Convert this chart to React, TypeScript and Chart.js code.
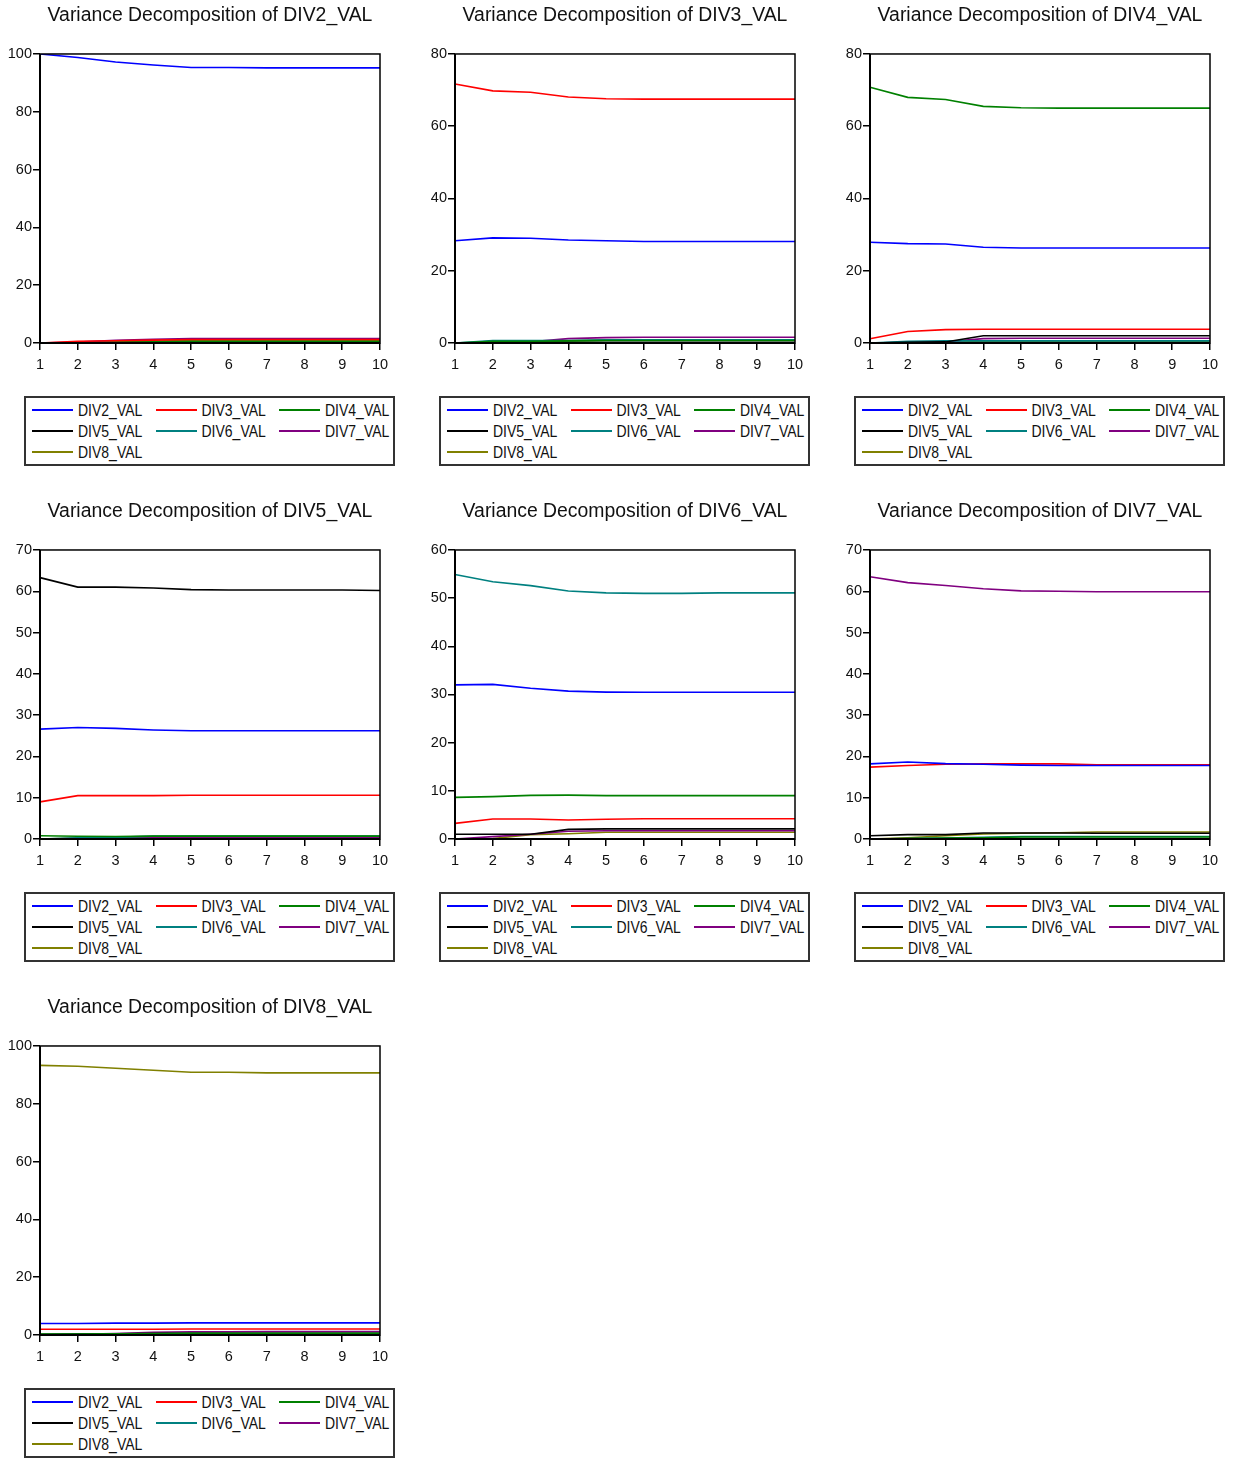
import React, { useEffect, useRef } from "react";
import { Chart, registerables } from "chart.js";

Chart.register(...registerables);

// ---------- data ----------
const periods = ["1", "2", "3", "4", "5", "6", "7", "8", "9", "10"];
const seriesNames = ["DIV2_VAL", "DIV3_VAL", "DIV4_VAL", "DIV5_VAL", "DIV6_VAL", "DIV7_VAL", "DIV8_VAL"];
const seriesColors = ["#0000FF", "#FF0000", "#008000", "#000000", "#008080", "#800080", "#808000"];

const panelTitles = [
  "Variance Decomposition of DIV2_VAL",
  "Variance Decomposition of DIV3_VAL",
  "Variance Decomposition of DIV4_VAL",
  "Variance Decomposition of DIV5_VAL",
  "Variance Decomposition of DIV6_VAL",
  "Variance Decomposition of DIV7_VAL",
  "Variance Decomposition of DIV8_VAL",
];
const yMaxes = [100, 80, 80, 70, 60, 70, 100];
const ySteps = [20, 20, 20, 10, 10, 10, 20];

// rows: DIV2..DIV8 contributions
const vdDIV2: number[][] = [
  [100, 98.8, 97.2, 96.2, 95.3, 95.3, 95.2, 95.2, 95.2, 95.2],
  [0, 0.6, 0.8, 1.0, 1.2, 1.2, 1.2, 1.2, 1.2, 1.2],
  [0, 0.1, 0.3, 0.5, 0.6, 0.6, 0.6, 0.6, 0.6, 0.6],
  [0, 0.05, 0.1, 0.1, 0.1, 0.1, 0.1, 0.1, 0.1, 0.1],
  [0, 0.1, 0.1, 0.2, 0.2, 0.2, 0.2, 0.2, 0.2, 0.2],
  [0, 0.3, 0.9, 1.3, 1.5, 1.5, 1.5, 1.5, 1.5, 1.5],
  [0, 0.1, 0.3, 0.6, 0.9, 0.9, 0.9, 0.9, 0.9, 0.9],
];
const vdDIV3: number[][] = [
  [28.3, 29.1, 29.0, 28.5, 28.3, 28.1, 28.1, 28.1, 28.1, 28.1],
  [71.7, 69.8, 69.4, 68.1, 67.6, 67.5, 67.5, 67.5, 67.5, 67.5],
  [0, 0.5, 0.5, 0.6, 0.7, 0.7, 0.7, 0.7, 0.7, 0.7],
  [0, 0.05, 0.1, 0.2, 0.2, 0.2, 0.2, 0.2, 0.2, 0.2],
  [0, 0.7, 0.7, 0.7, 0.9, 0.9, 0.9, 0.9, 0.9, 0.9],
  [0, 0.1, 0.3, 1.2, 1.5, 1.6, 1.6, 1.6, 1.6, 1.6],
  [0, 0.05, 0.2, 0.6, 0.8, 0.9, 0.9, 0.9, 0.9, 0.9],
];
const vdDIV4: number[][] = [
  [27.9, 27.5, 27.4, 26.5, 26.3, 26.3, 26.3, 26.3, 26.3, 26.3],
  [1.2, 3.2, 3.7, 3.8, 3.8, 3.8, 3.8, 3.8, 3.8, 3.8],
  [70.8, 68.0, 67.4, 65.5, 65.1, 65.0, 65.0, 65.0, 65.0, 65.0],
  [0, 0.2, 0.3, 2.0, 2.0, 2.0, 2.0, 2.0, 2.0, 2.0],
  [0, 0.5, 0.6, 0.6, 0.6, 0.6, 0.6, 0.6, 0.6, 0.6],
  [0, 0.2, 0.3, 1.2, 1.3, 1.3, 1.3, 1.3, 1.3, 1.3],
  [0, 0.1, 0.2, 0.4, 0.5, 0.5, 0.5, 0.5, 0.5, 0.5],
];
const vdDIV5: number[][] = [
  [26.6, 27.0, 26.8, 26.4, 26.2, 26.2, 26.2, 26.2, 26.2, 26.2],
  [9.0, 10.5, 10.5, 10.5, 10.6, 10.6, 10.6, 10.6, 10.6, 10.6],
  [0.8, 0.65, 0.6, 0.7, 0.7, 0.7, 0.7, 0.7, 0.7, 0.7],
  [63.3, 61.0, 61.0, 60.8, 60.4, 60.3, 60.3, 60.3, 60.3, 60.2],
  [0, 0.3, 0.4, 0.7, 0.7, 0.7, 0.7, 0.7, 0.7, 0.7],
  [0, 0.1, 0.2, 0.3, 0.3, 0.3, 0.3, 0.3, 0.3, 0.3],
  [0, 0.2, 0.3, 0.4, 0.6, 0.6, 0.6, 0.6, 0.6, 0.6],
];
const vdDIV6: number[][] = [
  [32.0, 32.1, 31.3, 30.7, 30.5, 30.45, 30.45, 30.45, 30.45, 30.45],
  [3.25, 4.15, 4.15, 3.95, 4.1, 4.2, 4.2, 4.2, 4.2, 4.2],
  [8.65, 8.8, 9.05, 9.1, 9.0, 9.0, 9.0, 9.0, 9.0, 9.0],
  [1.0, 1.0, 1.0, 2.0, 2.1, 2.1, 2.1, 2.1, 2.1, 2.1],
  [54.9, 53.4, 52.6, 51.5, 51.1, 51.0, 51.0, 51.1, 51.1, 51.1],
  [0, 0.5, 1.0, 1.6, 1.7, 1.7, 1.7, 1.7, 1.7, 1.7],
  [0, 0.1, 0.9, 1.1, 1.4, 1.4, 1.4, 1.4, 1.4, 1.4],
];
const vdDIV7: number[][] = [
  [18.2, 18.65, 18.25, 18.1, 17.9, 17.8, 17.8, 17.8, 17.8, 17.8],
  [17.4, 17.8, 18.1, 18.2, 18.2, 18.2, 18.0, 18.0, 18.0, 18.0],
  [0, 0.1, 0.2, 0.3, 0.5, 0.5, 0.5, 0.5, 0.5, 0.5],
  [0.8, 1.05, 1.05, 1.45, 1.45, 1.45, 1.4, 1.4, 1.4, 1.4],
  [0, 0.1, 0.2, 0.4, 0.6, 0.6, 0.6, 0.6, 0.6, 0.6],
  [63.5, 62.1, 61.4, 60.6, 60.1, 60.0, 59.9, 59.9, 59.9, 59.9],
  [0, 0.3, 0.8, 1.2, 1.4, 1.5, 1.7, 1.7, 1.7, 1.7],
];
const vdDIV8: number[][] = [
  [4.0, 4.0, 4.1, 4.1, 4.2, 4.2, 4.2, 4.2, 4.2, 4.2],
  [2.0, 2.0, 2.0, 2.0, 2.1, 2.1, 2.1, 2.1, 2.1, 2.1],
  [0.3, 0.3, 0.4, 0.5, 0.6, 0.6, 0.6, 0.6, 0.6, 0.6],
  [0.2, 0.3, 0.4, 0.5, 0.6, 0.6, 0.6, 0.6, 0.6, 0.6],
  [0.1, 0.2, 0.3, 0.4, 0.5, 0.5, 0.5, 0.5, 0.5, 0.5],
  [0.1, 0.2, 0.5, 0.9, 1.1, 1.1, 1.2, 1.2, 1.2, 1.2],
  [93.3, 93.0, 92.3, 91.6, 90.9, 90.9, 90.7, 90.7, 90.7, 90.7],
];
const panelData = [vdDIV2, vdDIV3, vdDIV4, vdDIV5, vdDIV6, vdDIV7, vdDIV8];

// ---------- styling ----------
const FONT = "'Liberation Sans', Arial, Helvetica, sans-serif";
const PANEL_W = 415;
const PANEL_H = 496;
const CANVAS_H = 390;

const framePlugin = {
  id: "frame",
  afterDatasetsDraw(chart: any) {
    const { ctx, chartArea } = chart;
    const { left, top, right, bottom } = chartArea;
    ctx.save();
    ctx.strokeStyle = "#000";
    ctx.lineWidth = 1.5;
    ctx.strokeRect(left, top, right - left, bottom - top);
    ctx.lineWidth = 2;
    ctx.beginPath();
    ctx.moveTo(left, top);
    ctx.lineTo(left, bottom);
    ctx.lineTo(right, bottom);
    ctx.stroke();
    ctx.restore();
  },
};

function Panel({ idx }: { idx: number }) {
  const ref = useRef<HTMLCanvasElement>(null);
  const col = idx % 3;
  const row = Math.floor(idx / 3);

  useEffect(() => {
    if (!ref.current) return;
    const tickFont = { family: FONT, size: 14.5 };
    const chart = new Chart(ref.current, {
      type: "line",
      data: {
        labels: periods,
        datasets: panelData[idx].map((vals, i) => ({
          label: seriesNames[i],
          data: vals,
          borderColor: seriesColors[i],
          backgroundColor: seriesColors[i],
          borderWidth: 1.6,
          pointRadius: 0,
          tension: 0,
          fill: false,
        })),
      },
      options: {
        animation: false,
        responsive: false,
        devicePixelRatio: 1,
        events: [],
        layout: { padding: { left: 0, right: 35, top: 0, bottom: 7 } },
        plugins: {
          legend: { display: false },
          tooltip: { enabled: false },
          title: {
            display: true,
            text: panelTitles[idx],
            fullSize: false,
            color: "#111",
            font: { family: FONT, size: 19.4, weight: "normal" },
            padding: { top: 4, bottom: 26.7 },
          },
        },
        scales: {
          x: {
            type: "category",
            offset: false,
            grid: { drawOnChartArea: false, drawTicks: true, tickLength: 7, color: "#000", lineWidth: 1.5 },
            border: { display: false },
            ticks: { font: tickFont, color: "#111", padding: 6, maxRotation: 0, autoSkip: false },
            afterFit: (s: any) => {
              s.height = 40;
            },
          },
          y: {
            min: 0,
            max: yMaxes[idx],
            grid: { drawOnChartArea: false, drawTicks: true, tickLength: 7, color: "#000", lineWidth: 1.5 },
            border: { display: false },
            ticks: { stepSize: ySteps[idx], font: tickFont, color: "#111", padding: 1 },
            afterFit: (s: any) => {
              s.width = 40;
            },
          },
        },
      } as any,
      plugins: [framePlugin],
    });
    return () => chart.destroy();
  }, [idx]);

  return (
    <div
      style={{
        position: "absolute",
        left: col * PANEL_W,
        top: row * PANEL_H,
        width: PANEL_W,
        height: PANEL_H,
      }}
    >
      <canvas ref={ref} width={PANEL_W} height={CANVAS_H} style={{ display: "block", width: PANEL_W, height: CANVAS_H }} />
      <div
        style={{
          position: "absolute",
          left: 24,
          top: 396,
          width: 371,
          height: 70,
          border: "2px solid #333",
          boxSizing: "border-box",
          background: "#fff",
        }}
      >
        {seriesNames.map((name, i) => {
          const c = i % 3;
          const r = Math.floor(i / 3);
          return (
            <div
              key={name}
              style={{
                position: "absolute",
                left: 6 + c * 123.5,
                top: 12 + r * 21 - 8,
                height: 16,
                display: "flex",
                alignItems: "center",
                whiteSpace: "nowrap",
              }}
            >
              <span style={{ display: "inline-block", width: 41, height: 2, background: seriesColors[i] }} />
              <span
                style={{
                  marginLeft: 5,
                  fontFamily: FONT,
                  fontSize: 14,
                  lineHeight: "16px",
                  color: "#111",
                  display: "inline-block",
                  transform: "scaleY(1.15)",
                }}
              >
                {name}
              </span>
            </div>
          );
        })}
      </div>
    </div>
  );
}

export default function App() {
  return (
    <div
      style={{
        position: "absolute",
        left: 0,
        top: 0,
        width: 1233,
        height: 1458,
        background: "#fff",
        overflow: "hidden",
      }}
    >
      {panelData.map((_, i) => (
        <Panel key={i} idx={i} />
      ))}
    </div>
  );
}
